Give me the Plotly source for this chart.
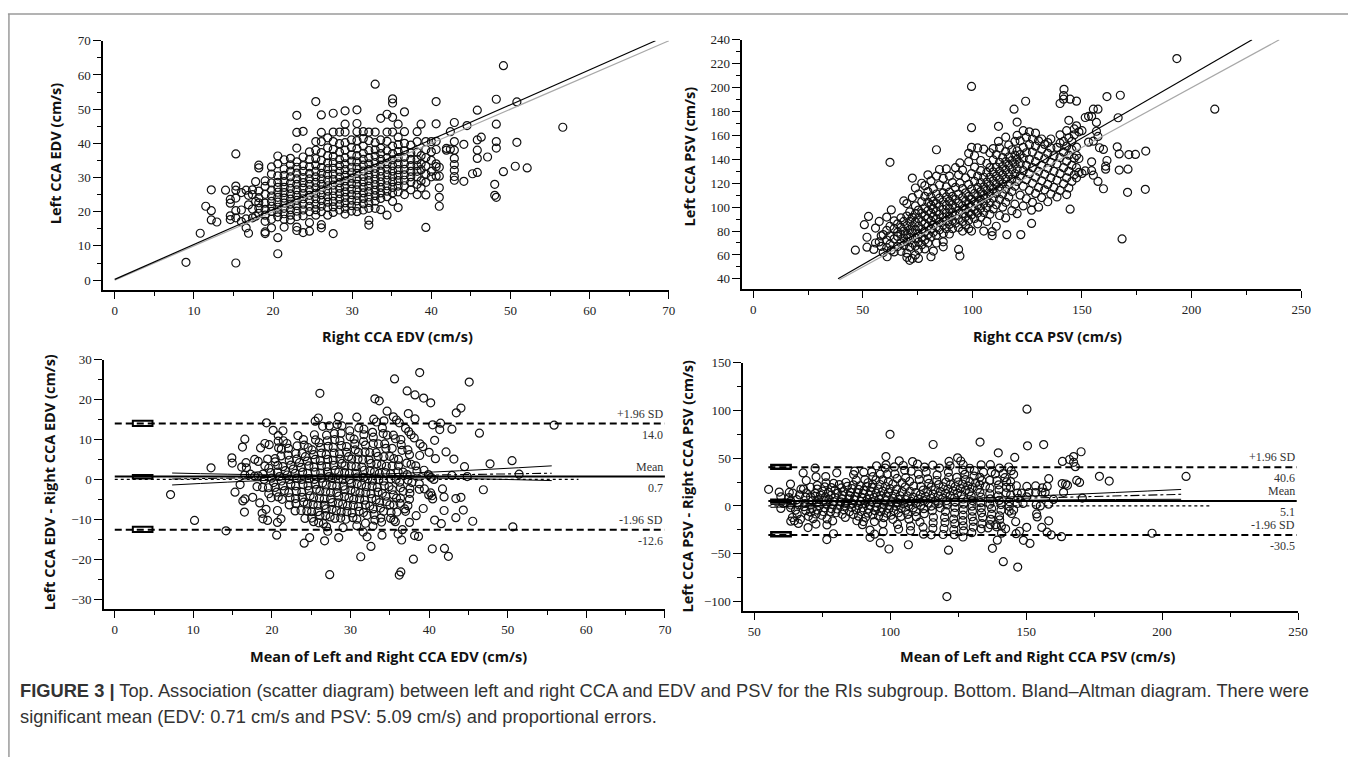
import plotly.graph_objects as go

W, H = 1358, 757

# ---------------------------------------------------------------------------
# EDV (cm/s): right CCA value of each column and the left CCA values found in it
# ---------------------------------------------------------------------------
edv_right = [
    9.0, 10.8, 11.5, 12.2, 12.9, 14.0, 14.6, 15.3, 16.0, 16.6,
    16.9, 17.4, 17.8, 18.2, 19.0, 19.8, 20.6, 21.4, 22.2, 23.0,
    23.8, 24.6, 25.4, 26.1, 26.9, 27.6, 28.4, 29.1, 29.9, 30.6,
    31.4, 32.1, 32.9, 33.6, 34.4, 35.1, 35.8, 36.6, 37.4, 38.2,
    38.7, 39.3, 40.0, 40.6, 41.0, 41.9, 42.4, 42.9, 44.1, 44.5,
    45.2, 45.8, 46.3, 47.1, 48.0, 48.2, 49.1, 50.6, 50.8, 52.1,
    56.6,
]
edv_left = [
    [5.2],
    [13.7],
    [21.6],
    [20.3, 26.4, 17.6],
    [17.0],
    [26.3],
    [23.6, 22.5, 18.8, 17.7],
    [36.9, 27.5, 26.3, 24.0, 20.3, 18.2, 5.0],
    [17.1, 20.5, 25.6],
    [17.9, 26.3, 15.3],
    [13.7, 24.8, 22.0],
    [25.0, 20.8, 18.2, 26.4],
    [28.8, 23.0, 18.7],
    [33.6, 32.8, 26.0, 24.1, 22.6, 21.0, 19.5],
    [29.0, 27.4, 25.1, 22.5, 20.7, 19.0, 17.2, 14.1, 13.6],
    [33.1, 31.0, 28.4, 26.3, 24.6, 23.0, 21.6, 20.1, 17.8, 15.3],
    [36.3, 34.0, 30.5, 28.6, 27.1, 25.7, 24.2, 22.8, 21.3, 19.8, 18.5, 12.4, 7.7],
    [35.2, 32.5, 30.6, 28.8, 27.1, 25.6, 24.0, 22.5, 21.0, 19.4, 17.8, 15.5],
    [35.6, 33.7, 31.9, 30.2, 28.4, 26.8, 25.2, 23.7, 22.2, 20.6, 19.0, 17.6],
    [48.2, 43.2, 38.6, 34.6, 33.0, 31.3, 29.6, 28.0, 26.4, 24.8, 23.3, 21.8, 20.2, 18.6, 15.5, 14.5],
    [43.5, 36.0, 33.5, 31.8, 30.0, 28.5, 26.9, 25.3, 23.8, 22.2, 20.5, 18.8, 13.9],
    [37.5, 35.3, 33.1, 31.2, 29.6, 28.0, 26.4, 24.8, 23.3, 21.6, 20.0, 16.8, 14.3],
    [52.2, 40.5, 38.0, 35.5, 33.6, 31.8, 30.2, 28.6, 27.0, 25.4, 23.8, 22.2, 20.6, 19.0],
    [48.3, 43.2, 40.5, 37.3, 35.0, 32.9, 31.2, 29.6, 28.0, 26.4, 24.9, 23.3, 21.6, 20.0, 16.2, 15.3],
    [41.6, 38.7, 36.4, 34.3, 32.6, 30.9, 29.2, 27.6, 26.0, 24.4, 22.8, 21.2, 19.0],
    [48.8, 43.3, 40.5, 38.2, 36.2, 34.4, 32.7, 31.0, 29.4, 27.8, 26.2, 24.6, 23.0, 21.4, 19.8, 13.6],
    [43.3, 39.9, 37.4, 35.3, 33.5, 31.8, 30.1, 28.5, 26.9, 25.3, 23.7, 22.1, 20.5],
    [49.5, 45.6, 43.3, 40.2, 38.0, 35.8, 34.0, 32.3, 30.6, 29.0, 27.4, 25.8, 24.2, 22.6, 21.0, 19.3],
    [41.0, 38.8, 36.6, 34.8, 33.0, 31.4, 29.8, 28.2, 26.6, 25.0, 23.4, 21.8, 20.2],
    [49.8, 45.8, 43.4, 40.8, 38.4, 36.4, 34.6, 32.9, 31.2, 29.6, 28.0, 26.4, 24.8, 23.2, 21.6, 20.0],
    [43.4, 41.4, 39.2, 37.1, 35.3, 33.6, 31.9, 30.3, 28.7, 27.1, 25.5, 23.9, 22.3, 20.5],
    [43.3, 40.8, 37.9, 35.8, 34.0, 32.3, 30.7, 29.1, 27.5, 25.9, 24.3, 22.7, 21.0, 17.5, 16.1],
    [57.3, 43.3, 40.2, 38.1, 36.2, 34.4, 32.7, 31.1, 29.5, 27.9, 26.3, 24.7, 23.1, 21.0],
    [47.3, 41.0, 38.6, 37.0, 35.3, 33.6, 31.9, 30.3, 28.7, 27.1, 25.5, 23.9, 20.6],
    [48.5, 43.3, 40.6, 37.8, 35.8, 34.0, 32.4, 30.8, 29.2, 27.6, 26.0, 24.4, 19.0],
    [53.0, 51.8, 47.6, 43.3, 39.2, 37.0, 35.2, 33.5, 31.9, 30.3, 28.7, 27.1, 25.5, 23.0],
    [45.6, 41.8, 39.6, 37.6, 35.8, 34.0, 32.3, 30.7, 29.1, 27.5, 25.8, 21.2],
    [49.2, 43.4, 40.0, 37.8, 35.9, 34.0, 32.4, 30.8, 29.2, 27.6, 25.0],
    [39.5, 37.2, 35.3, 33.5, 31.8, 30.2, 28.6, 26.4],
    [43.4, 40.5, 37.4, 35.2, 33.5, 31.8, 30.2, 28.0, 25.0],
    [45.6, 36.4, 34.0, 32.3, 29.0, 27.0],
    [40.5, 38.2, 35.8, 33.3, 31.0, 28.6, 24.9, 15.4],
    [40.5, 37.5, 35.0, 31.8, 30.2],
    [52.2, 45.7, 40.6, 38.2, 34.0, 33.2, 30.4],
    [33.0, 30.4, 27.0, 24.2, 21.6],
    [38.5, 38.0],
    [38.3, 43.4],
    [46.1, 40.5, 38.0, 35.6, 33.8, 32.1, 30.3, 29.2],
    [39.7, 28.9],
    [45.2],
    [31.1],
    [49.7, 41.0, 38.0, 35.6, 31.5],
    [41.8],
    [36.0],
    [24.8, 28.0],
    [52.9, 45.6, 40.5, 38.6, 24.2],
    [62.7, 31.7],
    [33.3],
    [52.1, 40.3],
    [32.8],
    [44.7],
]

# ---------------------------------------------------------------------------
# PSV (cm/s): right CCA value of each column and the left CCA values found in it
# ---------------------------------------------------------------------------
psv_right = [
    46.6, 50.7, 51.9, 52.6, 55.0, 55.8, 57.5, 58.4, 59.3, 60.9,
    61.1, 62.4, 63.0, 64.3, 65.9, 67.4, 68.7, 70.1, 71.4, 72.6,
    74.0, 75.4, 76.9, 78.3, 79.7, 81.1, 82.2, 83.6, 85.0, 86.7,
    88.1, 89.5, 90.9, 92.3, 93.7, 94.3, 95.5, 96.9, 98.3, 99.6,
    101.0, 102.4, 103.8, 105.2, 106.6, 108.0, 109.0, 109.5, 110.9, 111.9,
    112.4, 113.8, 115.2, 115.7, 116.6, 118.0, 119.0, 119.4, 120.4, 121.8,
    122.1, 123.2, 124.3, 124.6, 126.0, 127.0, 127.4, 128.8, 130.2, 131.6,
    133.0, 134.4, 135.8, 137.2, 138.6, 140.0, 141.6, 141.8, 143.0, 144.0,
    144.6, 145.4, 146.5, 147.5, 148.6, 150.0, 151.5, 153.0, 154.4, 155.2,
    156.6, 157.3, 158.0, 159.8, 160.8, 161.4, 166.1, 166.5, 167.0, 167.5,
    168.3, 170.8, 171.0, 171.4, 174.4, 178.9, 179.1, 193.3, 210.6,
]
psv_left = [
    [64.0],
    [85.3],
    [66.5, 74.8],
    [92.2],
    [64.6],
    [82.5, 70.0],
    [70.9, 88.0],
    [67.2, 76.0],
    [77.0, 62.0],
    [91.7, 66.0, 72.5, 80.5],
    [58.5],
    [137.5, 84.0, 76.0, 69.0],
    [97.7, 64.0],
    [82.0, 73.5, 88.5, 62.5],
    [79.0, 67.0, 75.5, 86.0],
    [70.0, 77.5, 83.0, 91.0, 63.0],
    [105.2, 88.0, 80.0, 74.0, 68.0],
    [103.0, 92.5, 84.5, 77.0, 71.0, 61.5, 58.0],
    [55.5, 96.0, 88.0, 81.0, 74.5, 66.5],
    [124.3, 108.0, 91.5, 84.0, 78.5, 70.0, 57.0],
    [116.0, 101.0, 94.5, 87.5, 81.0, 74.0, 67.5, 60.0],
    [57.1, 111.0, 97.5, 90.5, 84.0, 77.5, 71.0, 64.5],
    [120.0, 104.5, 95.0, 88.0, 81.5, 75.0, 68.5],
    [118.0, 109.0, 99.5, 92.5, 86.0, 79.5, 72.5, 65.0],
    [127.0, 113.0, 104.0, 97.0, 90.5, 84.0, 77.0, 70.0],
    [122.0, 108.5, 101.5, 95.0, 88.5, 82.0, 75.0, 58.5],
    [63.2, 115.5, 105.0, 98.5, 92.0, 85.0, 79.0],
    [148.0, 126.0, 111.0, 103.0, 96.5, 90.0, 83.5, 76.5, 70.0],
    [131.5, 118.5, 107.5, 100.5, 94.0, 87.5, 81.0],
    [66.8, 71.0, 124.0, 112.0, 104.5, 98.0, 91.5, 85.0, 78.0],
    [132.0, 117.0, 108.5, 101.5, 95.0, 88.5, 82.0],
    [126.0, 112.5, 105.0, 98.5, 92.0, 85.5, 77.5],
    [120.5, 109.0, 102.0, 95.5, 89.0, 82.0],
    [133.0, 116.5, 106.5, 99.5, 93.0, 86.5],
    [64.6, 127.0, 111.0, 103.5, 97.0, 90.5, 83.0],
    [59.1, 137.0, 120.0],
    [131.0, 115.5, 108.0, 101.0, 94.5, 88.0, 80.0],
    [124.5, 112.0, 105.0, 98.5, 92.0, 85.0],
    [145.0, 138.0, 119.0, 109.0, 102.5, 96.0, 89.0, 82.0],
    [201.0, 166.5, 150.0, 128.0, 115.0, 106.5, 100.0, 93.5, 80.0],
    [143.0, 133.5, 121.5, 111.5, 104.5, 98.0, 90.5],
    [149.5, 126.0, 116.5, 109.0, 102.0, 95.0, 86.0],
    [139.0, 130.5, 120.5, 113.0, 106.0, 99.0, 91.5],
    [148.5, 125.0, 117.0, 110.0, 103.0, 95.5, 80.0],
    [136.5, 129.0, 121.0, 114.0, 107.0, 99.5, 88.0],
    [145.5, 133.0, 125.0, 118.0, 111.0, 103.5, 94.0],
    [76.2, 79.5],
    [149.0, 139.5, 129.5, 122.0, 115.0, 107.5, 98.5],
    [144.0, 133.5, 126.0, 119.0, 111.5, 102.0, 84.0],
    [167.6, 155.0],
    [149.5, 137.5, 130.0, 123.0, 115.5, 106.5, 93.0],
    [141.5, 134.0, 127.0, 119.5, 111.0, 100.0],
    [158.5, 146.5, 138.0, 131.0, 123.5, 115.0, 104.0, 91.0],
    [77.0],
    [152.0, 142.0, 135.0, 127.5, 119.0, 108.5],
    [148.0, 139.0, 131.5, 123.5, 113.0, 97.0],
    [182.0],
    [155.0, 143.5, 136.0, 128.0, 117.5, 102.5],
    [171.2, 160.0, 147.0, 140.0, 132.0, 121.5, 94.5],
    [155.5, 144.0, 136.5, 126.0, 110.0],
    [77.0],
    [164.0, 150.0, 141.0, 130.5, 117.5, 101.0],
    [188.6],
    [158.5, 145.5, 135.0, 123.0, 107.0],
    [163.0, 152.5, 140.0, 128.0, 114.0],
    [86.4, 97.5],
    [157.0, 146.0, 133.0, 120.0, 104.0],
    [162.0, 151.0, 138.0, 125.0, 111.5],
    [155.5, 143.0, 130.0, 116.5, 100.0],
    [157.0, 148.5, 135.0, 122.0, 108.0],
    [152.5, 140.5, 127.5, 114.5],
    [154.0, 145.0, 132.5, 119.0, 104.5],
    [157.0, 149.5, 137.5, 124.5, 111.0],
    [143.0, 130.0, 116.5],
    [150.0, 136.0, 122.5, 108.5],
    [186.7, 160.5, 153.5, 141.5, 128.0, 114.0],
    [193.3, 190.3, 155.0, 146.0, 133.0, 119.5],
    [198.6],
    [164.0, 151.0, 138.5, 124.5, 110.5],
    [172.6, 158.0, 143.5, 130.0, 116.0],
    [98.3, 190.3],
    [155.0, 148.0, 135.0, 121.5],
    [165.4, 160.5, 141.0, 127.0],
    [188.7, 168.0, 150.2, 143.3, 133.0, 124.5],
    [163.0, 140.7, 129.0],
    [164.0, 128.2],
    [130.3, 175.0],
    [176.0, 154.4],
    [176.0, 137.9, 130.5],
    [182.0, 155.2, 126.7],
    [170.9, 163.5],
    [182.0, 159.2, 121.5],
    [149.7],
    [115.4, 148.3],
    [131.8, 134.3],
    [192.5, 139.0],
    [150.5],
    [174.8],
    [131.0, 144.5],
    [193.6],
    [73.4],
    [112.4],
    [131.8],
    [144.0],
    [144.1],
    [114.9],
    [146.9],
    [224.3],
    [182.0],
]

# Fitted line (black) and line of identity (grey) for the scatter diagrams
edv_fit_x, edv_fit_y = [0.0, 68.3], [0.2, 70.0]
edv_identity = [0.0, 70.0]
psv_fit_x, psv_fit_y = [38.7, 227.6], [40.0, 240.0]
psv_identity = [39.3, 240.0]

# Bland-Altman statistics: limits of agreement and mean difference
edv_limits = [14.0, 0.7, -12.6]
psv_limits = [40.6, 5.1, -30.5]
limit_names = ["+1.96 SD", "Mean", "-1.96 SD"]
# 95% confidence intervals of the three lines (low, high)
edv_ci_low, edv_ci_high = [13.4, 0.2, -13.2], [14.7, 1.1, -11.9]
psv_ci_low, psv_ci_high = [39.0, 3.6, -31.6], [43.0, 6.6, -27.6]

# Regression of difference on mean, with its confidence band
edv_reg_x, edv_reg_y = [7.3, 55.6], [0.1, 1.55]
edv_band_x = [7.3, 30.0, 55.6]
edv_band_hi, edv_band_lo = [1.6, 1.15, 3.4], [-1.4, 0.4, -0.3]
psv_reg_x, psv_reg_y = [56.0, 207.0], [1.5, 12.2]
psv_band_x = [56.0, 130.0, 207.0]
psv_band_hi, psv_band_lo = [4.5, 8.2, 17.3], [-1.5, 5.2, 7.0]


def flatten(levels, groups):
    xs, ys = [], []
    for x, g in zip(levels, groups):
        xs += [x] * len(g)
        ys += g
    return xs, ys


assert len(edv_right) == len(edv_left)
assert len(psv_right) == len(psv_left)
edv_r, edv_l = flatten(edv_right, edv_left)
psv_r, psv_l = flatten(psv_right, psv_left)

# Bland-Altman coordinates
edv_mean = [(a + b) / 2 for a, b in zip(edv_r, edv_l)]
edv_diff = [b - a for a, b in zip(edv_r, edv_l)]
psv_mean = [(a + b) / 2 for a, b in zip(psv_r, psv_l)]
psv_diff = [b - a for a, b in zip(psv_r, psv_l)]


def px_x(a, b):
    return [a / W, b / W]


def px_y(top, bottom):
    return [1 - bottom / H, 1 - top / H]


TICK_FONT = dict(family="Liberation Serif, Times New Roman, serif", size=13, color="#222")
TITLE_FONT = dict(family="Open Sans, Arial, sans-serif", size=14.5, color="#111", weight="bold")


def axis(domain, rng, dtick, minor, anchor, ticklen=7):
    return dict(
        domain=domain, range=rng, dtick=dtick, tick0=0, anchor=anchor,
        showline=True, linewidth=2, linecolor="black", mirror=False,
        ticks="outside", ticklen=ticklen, tickwidth=1.3, tickcolor="black",
        showgrid=False, zeroline=False, tickfont=TICK_FONT, fixedrange=True,
        minor=dict(dtick=minor, ticklen=4, tickwidth=1.1, tickcolor="black",
                   ticks="outside", showgrid=False),
    )


marker = dict(symbol="circle-open", size=8, color="#111", line=dict(width=1.2))

fig = go.Figure()

# ---- scatter diagrams ----
fig.add_trace(go.Scatter(x=edv_r, y=edv_l, mode="markers", marker=marker, xaxis="x", yaxis="y"))
fig.add_trace(go.Scatter(x=edv_identity, y=edv_identity, mode="lines",
                         line=dict(color="#a8a8a8", width=1.2), xaxis="x", yaxis="y"))
fig.add_trace(go.Scatter(x=edv_fit_x, y=edv_fit_y, mode="lines",
                         line=dict(color="black", width=1.2), xaxis="x", yaxis="y"))

fig.add_trace(go.Scatter(x=psv_r, y=psv_l, mode="markers", marker=marker, xaxis="x2", yaxis="y2"))
fig.add_trace(go.Scatter(x=psv_identity, y=psv_identity, mode="lines",
                         line=dict(color="#a8a8a8", width=1.2), xaxis="x2", yaxis="y2"))
fig.add_trace(go.Scatter(x=psv_fit_x, y=psv_fit_y, mode="lines",
                         line=dict(color="black", width=1.2), xaxis="x2", yaxis="y2"))

# ---- Bland-Altman diagrams ----
fig.add_trace(go.Scatter(x=edv_mean, y=edv_diff, mode="markers", marker=marker, xaxis="x3", yaxis="y3"))
fig.add_trace(go.Scatter(x=psv_mean, y=psv_diff, mode="markers", marker=marker, xaxis="x4", yaxis="y4"))


def ba_lines(xa, ya, x_from, x_to, zero_to, limits, reg_x, reg_y, band_x, hi, lo):
    fig.add_trace(go.Scatter(x=[x_from, zero_to], y=[0, 0], mode="lines",
                             line=dict(color="black", width=1.2, dash="dot"), xaxis=xa, yaxis=ya))
    for i, v in enumerate(limits):
        style = dict(color="black", width=2) if i == 1 else dict(color="black", width=2, dash="7px,4px")
        fig.add_trace(go.Scatter(x=[x_from, x_to], y=[v, v], mode="lines", line=style, xaxis=xa, yaxis=ya))
    fig.add_trace(go.Scatter(x=reg_x, y=reg_y, mode="lines",
                             line=dict(color="black", width=1.1, dash="dashdot"), xaxis=xa, yaxis=ya))
    for band in (hi, lo):
        fig.add_trace(go.Scatter(x=band_x, y=band, mode="lines", line_shape="spline",
                                 line=dict(color="black", width=1), xaxis=xa, yaxis=ya))


ba_lines("x3", "y3", 0.0, 70.0, 59.0, edv_limits, edv_reg_x, edv_reg_y, edv_band_x, edv_band_hi, edv_band_lo)
ba_lines("x4", "y4", 55.2, 249.5, 218.0, psv_limits, psv_reg_x, psv_reg_y, psv_band_x, psv_band_hi, psv_band_lo)

shapes = []
# confidence-interval boxes of the agreement lines
for lo, hi in zip(edv_ci_low, edv_ci_high):
    shapes.append(dict(type="rect", xref="x3", yref="y3", x0=2.3, x1=4.8, y0=lo, y1=hi,
                       line=dict(color="black", width=2), fillcolor="rgba(0,0,0,0)"))
for lo, hi in zip(psv_ci_low, psv_ci_high):
    shapes.append(dict(type="rect", xref="x4", yref="y4", x0=56.3, x1=63.4, y0=lo, y1=hi,
                       line=dict(color="black", width=2.5), fillcolor="rgba(0,0,0,0)"))
# figure frame
shapes.append(dict(type="line", xref="paper", yref="paper", x0=8 / W, x1=1.0, y0=1 - 7 / H, y1=1 - 7 / H,
                   line=dict(color="#9a9a9a", width=1.5)))
shapes.append(dict(type="line", xref="paper", yref="paper", x0=9 / W, x1=9 / W, y0=0, y1=1 - 7 / H,
                   line=dict(color="#9a9a9a", width=1.5)))

annotations = []


def paper_text(text, x, y, rot=0, font=TITLE_FONT, xanchor="center"):
    annotations.append(dict(text=text, x=x / W, y=1 - y / H, xref="paper", yref="paper",
                            showarrow=False, textangle=rot, font=font, xanchor=xanchor, yanchor="middle"))


paper_text("Left CCA EDV (cm/s)", 56, 148, rot=-90)
paper_text("Right CCA EDV (cm/s)", 400, 333)
paper_text("Left CCA PSV (cm/s)", 695, 151, rot=-90)
paper_text("Right CCA PSV (cm/s)", 1055, 333)
paper_text("Left CCA EDV - Right CCA EDV (cm/s)", 50, 480, rot=-90)
paper_text("Mean of Left and Right CCA EDV (cm/s)", 391, 656)
paper_text("Left CCA PSV - Right CCA PSV (cm/s)", 693, 483, rot=-90)
paper_text("Mean of Left and Right CCA PSV (cm/s)", 1045, 656)

LABEL_FONT = dict(family="Liberation Serif, Times New Roman, serif", size=12, color="#333")
for xa, ya, xr, vals in (("x3", "y3", 70.0, edv_limits), ("x4", "y4", 249.5, psv_limits)):
    for name, v in zip(limit_names, vals):
        annotations.append(dict(text=name, x=xr, y=v, xref=xa, yref=ya, showarrow=False,
                                xanchor="right", yanchor="middle", yshift=10, font=LABEL_FONT))
        annotations.append(dict(text=f"{v:.1f}", x=xr, y=v, xref=xa, yref=ya, showarrow=False,
                                xanchor="right", yanchor="middle", yshift=-11, font=LABEL_FONT))

CAP_FONT = dict(family="Liberation Sans, Arial, sans-serif", size=18.3, color="#333")
paper_text("<b>FIGURE 3</b> <b>|</b> Top. Association (scatter diagram) between left and right CCA and EDV "
           "and PSV for the RIs subgroup. Bottom. Bland\u2013Altman diagram. There were",
           18, 690, font=CAP_FONT, xanchor="left")
paper_text("significant mean (EDV: 0.71 cm/s and PSV: 5.09 cm/s) and proportional errors.",
           18, 716, font=CAP_FONT, xanchor="left")

fig.update_layout(
    width=W, height=H, margin=dict(l=0, r=0, t=0, b=0),
    paper_bgcolor="white", plot_bgcolor="white", showlegend=False,
    xaxis=axis(px_x(104, 674), [-1.45, 70.02], 10, 5, "y"),
    yaxis=axis(px_y(34, 286), [-3.0, 70.02], 10, 5, "x", ticklen=8),
    xaxis2=axis(px_x(748, 1311), [-4.9, 250.1], 50, 25, "y2"),
    yaxis2=axis(px_y(33, 285), [31.2, 240.1], 20, 10, "x2", ticklen=8),
    xaxis3=axis(px_x(105, 670), [-1.34, 70.02], 10, 5, "y3"),
    yaxis3=axis(px_y(356, 608), [-32.6, 30.02], 10, 5, "x3", ticklen=8),
    xaxis4=axis(px_x(749, 1308), [46.06, 250.1], 50, 25, "y4"),
    yaxis4=axis(px_y(359, 610), [-110.4, 150.1], 50, 25, "x4", ticklen=8),
    shapes=shapes, annotations=annotations,
)

fig.write_html("out.html")
